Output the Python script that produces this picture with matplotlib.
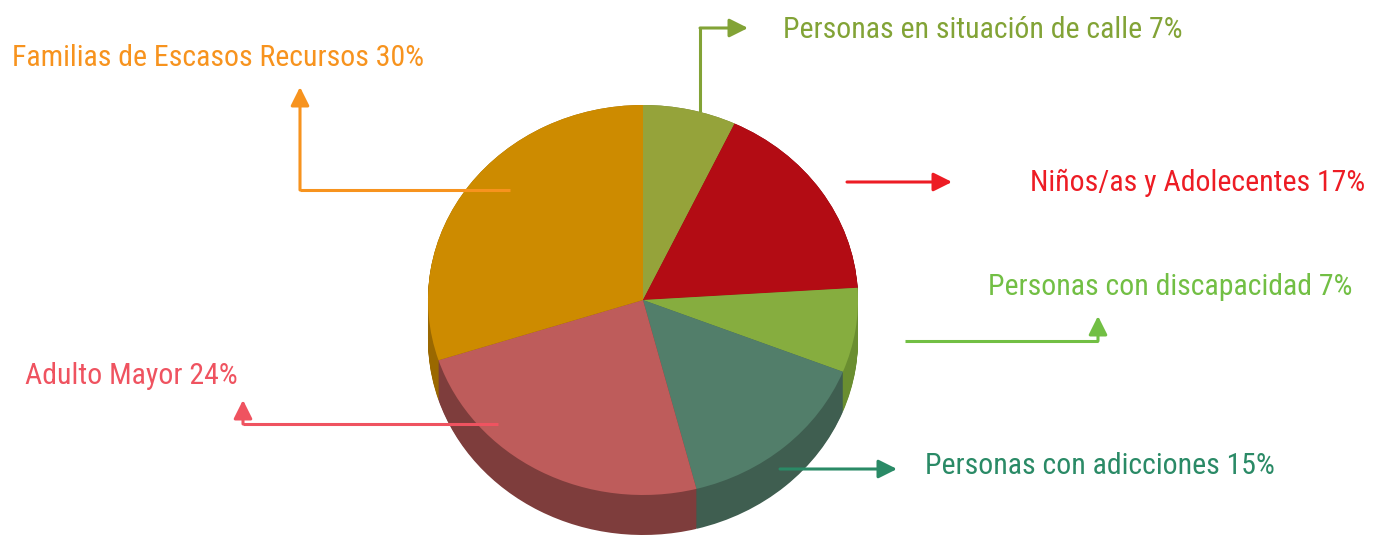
import matplotlib
matplotlib.use('Agg')
import matplotlib.pyplot as plt
from matplotlib import font_manager as fm
import numpy as np

# ---- data ----
labels = ['Personas en situación de calle', 'Niños/as y Adolecentes',
          'Personas con discapacidad', 'Personas con adicciones',
          'Adulto Mayor', 'Familias de Escasos Recursos']
values = [7, 17, 7, 15, 24, 30]

# ---- styles ----
top_colors = ['#95a33a', '#b30c14', '#86ad3f', '#527e6a', '#be5c5b', '#cd8b00']
side_colors = ['#6f7a2a', '#80080e', '#6a8e30', '#3f5e50', '#7e3d3c', '#9a6800']
text_colors = ['#82a336', '#ed1c24', '#72bf44', '#2a8a66', '#ef5360', '#f7931e']

# ---- layout (pixels) ----
W, H = 1383, 537
text_pos = [(783, 30), (1030, 183), (988, 287), (925, 466), (25, 376), (12, 58)]
text_w = [402, 336, 364, 348, 217, 410]
arrow_paths = [
    [(700, 112), (700, 28), (748, 28)],
    [(847, 182), (952, 182)],
    [(905, 341), (1098, 341), (1098, 316)],
    [(780, 469), (897, 469)],
    [(498, 424), (243, 424), (243, 400)],
    [(510, 190), (300, 190), (300, 87)],
]

# font choice: prefer condensed families
names = {f.name for f in fm.fontManager.ttflist}
font = 'DejaVu Sans'
for cand in ['Roboto Condensed', 'Liberation Sans Narrow', 'Open Sans Condensed',
             'DejaVu Sans Condensed', 'Noto Sans Display', 'Roboto', 'Liberation Sans']:
    if cand in names:
        font = cand
        break
stretch = 'normal'
for f in fm.fontManager.ttflist:
    if f.name == font and f.stretch in ('condensed', 'semi-condensed', 'extra-condensed'):
        stretch = f.stretch
        break

fig = plt.figure(figsize=(W / 100, H / 100), dpi=100)

cx, cy, rx, ry, depth = 643, 300, 215, 195, 40
pax = fig.add_axes([0, 0, 1, 1])
N = 40
for k in range(N + 1):
    d = depth * (1 - k / N) / ry
    pax.pie(values, colors=side_colors, startangle=90, counterclock=False,
            center=(0, -d), radius=1, wedgeprops=dict(linewidth=0))
pax.pie(values, colors=top_colors, startangle=90, counterclock=False,
        center=(0, 0), radius=1, wedgeprops=dict(linewidth=0))
pax.set_aspect('auto')
pax.set_xlim((0 - cx) / rx, (W - cx) / rx)
pax.set_ylim((cy - H) / ry, (cy - 0) / ry)
pax.axis('off')

oax = fig.add_axes([0, 0, 1, 1])
oax.set_xlim(0, W)
oax.set_ylim(H, 0)
oax.axis('off')

renderer = fig.canvas.get_renderer()
texts = []
sizes = []
for lab, val, col, (tx, ty), tw in zip(labels, values, text_colors, text_pos, text_w):
    t = oax.text(tx, ty, f'{lab} {val}%', color=col, fontsize=20, family=font,
                 fontstretch=stretch, ha='left', va='center')
    w = t.get_window_extent(renderer).width
    sizes.append(20 * tw / w)
    texts.append(t)
fs = float(np.median(sizes))
for t in texts:
    t.set_fontsize(fs)

for col, path in zip(text_colors, arrow_paths):
    xs = [p[0] for p in path]
    ys = [p[1] for p in path]
    oax.plot(xs[:-1], ys[:-1], color=col, lw=2.2, solid_capstyle='butt')
    oax.annotate('', xy=path[-1], xytext=path[-2],
                 arrowprops=dict(arrowstyle='-|>', color=col, lw=2.2,
                                 mutation_scale=28, shrinkA=0, shrinkB=0))

fig.savefig('out.png', dpi=100)
